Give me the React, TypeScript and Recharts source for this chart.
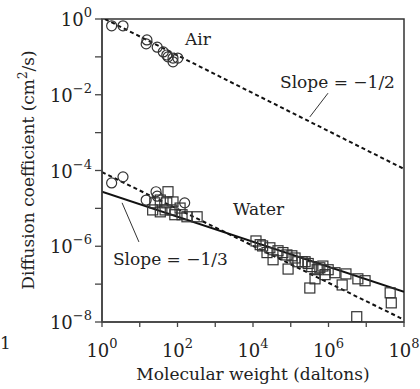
// Diffusion coefficient vs molecular weight, log-log, with power-law guide lines
// for air (slope -1/2) and water (slopes -1/2 and -1/3).

import {
  ComposedChart,
  Line,
  ReferenceArea,
  ReferenceDot,
  ReferenceLine,
  Scatter,
  XAxis,
  YAxis,
} from "recharts";

const FONT = '"DejaVu Serif", serif';
const INK = "#222";
const textStyle = { fontFamily: FONT };

// Tick values (every decade); only even powers carry a label.
const mwTicks = [1, 1e1, 1e2, 1e3, 1e4, 1e5, 1e6, 1e7, 1e8];
const dTicks = [1e-8, 1e-7, 1e-6, 1e-5, 1e-4, 1e-3, 1e-2, 1e-1, 1];

// Gases in air (circles)
const airMw = [1.8, 3.6, 15.5, 14.8, 29, 42, 52, 56, 76, 102, 76];
const airD = [0.66, 0.66, 0.28, 0.22, 0.18, 0.135, 0.112, 0.1, 0.093, 0.093, 0.074];

// Small molecules in water (circles)
const waterCircleMw = [1.8, 3.6, 14.8, 27, 29, 155];
const waterCircleD = [4.7e-5, 6.8e-5, 1.66e-5, 2.75e-5, 2.1e-5, 1.4e-5];

// Solutes in water (squares)
const waterSquareMw = [
  22, 25, 35, 35, 47, 52, 56, 71, 76, 85, 117, 132, 178, 331,
  1.2e4, 1.55e4, 1.8e4, 2.35e4, 2.8e4, 3.4e4, 4.6e4, 6.2e4, 7.9e4, 8.5e4,
  1.07e5, 1.3e5, 1.55e5, 2.0e5, 2.4e5, 2.9e5, 3.2e5, 3.6e5, 4.4e5, 5.0e5,
  5.9e5, 7.1e5, 8.1e5, 9.8e5, 1.48e6, 2.3e6, 2.9e6, 5.6e6, 6.0e6, 9.3e6,
  4.3e7, 4.6e7,
];
const waterSquareD = [
  9.1e-6, 1.4e-5, 1.66e-5, 8.1e-6, 9.1e-6, 1.4e-5, 2.75e-5, 9.1e-6, 1.48e-5, 6.8e-6,
  1.02e-5, 6.8e-6, 6.0e-6, 6.0e-6,
  1.38e-6, 1.1e-6, 1.02e-6, 6.8e-7, 9.1e-7, 4.4e-7, 7.6e-7, 6.8e-7, 5.9e-7, 2.5e-7,
  5.6e-7, 4.9e-7, 3.9e-7, 3.9e-7, 3.9e-7, 3.5e-7, 7.9e-8, 2.9e-7, 1.38e-7, 2.4e-7,
  2.7e-7, 3.0e-7, 1.78e-7, 2.4e-7, 2.0e-7, 9.5e-8, 1.86e-7, 1.38e-8, 1.38e-7, 1.23e-7,
  5.9e-8, 3.2e-8,
];

// Guide line end points
const airFitMw = [1.2, 1e8];
const airFitD = [1.0, 1.1e-4];
const waterHalfMw = [1, 1e8];
const waterHalfD = [9.1e-5, 1.15e-8];
const waterThirdMw = [1, 1e8];
const waterThirdD = [2.75e-5, 6.3e-8];

const pairs = (xs: number[], ys: number[]) => xs.map((x, i) => ({ x, y: ys[i] }));

const airData = pairs(airMw, airD);
const waterCircleData = pairs(waterCircleMw, waterCircleD);
const waterSquareData = pairs(waterSquareMw, waterSquareD);

const exponentOf = (v: number) => Math.round(Math.log10(v));
const expText = (e: number) => (e < 0 ? `\u2212${-e}` : `${e}`);

function XTick({ x, y, payload }: any) {
  const e = exponentOf(payload.value);
  if (e % 2 !== 0) return null;
  return (
    <text x={x} y={y + 28} textAnchor="middle" style={textStyle} fontSize={18} fill={INK}>
      10
      <tspan dy={-9} fontSize={13}>
        {expText(e)}
      </tspan>
    </text>
  );
}

function YTick({ x, y, payload }: any) {
  const e = exponentOf(payload.value);
  if (e % 2 !== 0) return null;
  return (
    <text x={x - 1} y={y + 7} textAnchor="end" style={textStyle} fontSize={18} fill={INK}>
      10
      <tspan dy={-9} fontSize={13}>
        {expText(e)}
      </tspan>
    </text>
  );
}

const XTitle = () => (
  <text x={253} y={380} textAnchor="middle" style={textStyle} fontSize={17} fill={INK}>
    Molecular weight (daltons)
  </text>
);

const YTitle = () => (
  <text
    transform="translate(34,170) rotate(-90)"
    textAnchor="middle"
    style={textStyle}
    fontSize={17}
    fill={INK}
  >
    Diffusion coefficient (cm
    <tspan dy={-7} fontSize={12}>
      2
    </tspan>
    <tspan dy={7}>/s)</tspan>
  </text>
);

const note = (text: string) => (props: any) => (
  <text
    x={props.viewBox.x}
    y={props.viewBox.y}
    style={textStyle}
    fontSize={17}
    fill={INK}
  >
    {text}
  </text>
);

const Circle = (p: any) => (
  <circle cx={p.cx} cy={p.cy} r={5} fill="none" stroke="#333" strokeWidth={1.2} />
);
const Square = (p: any) => (
  <rect x={p.cx - 5} y={p.cy - 5} width={10} height={10} fill="none" stroke="#333" strokeWidth={1.2} />
);

export default function App() {
  return (
    <div style={{ position: "absolute", left: 0, top: 0, background: "#fff" }}>
      <ComposedChart
        width={420}
        height={389}
        margin={{ top: 19, right: 16, bottom: 37, left: 42 }}
      >
        <XAxis
          dataKey="x"
          type="number"
          scale="log"
          domain={[1, 1e8]}
          ticks={mwTicks}
          interval={0}
          allowDataOverflow
          height={30}
          tickSize={5}
          tickLine={{ stroke: "#444", strokeWidth: 1.3 }}
          axisLine={{ stroke: "#444", strokeWidth: 1.5 }}
          tick={<XTick />}
          label={<XTitle />}
        />
        <YAxis
          dataKey="y"
          type="number"
          scale="log"
          domain={[1e-8, 1]}
          ticks={dTicks}
          interval={0}
          allowDataOverflow
          width={60}
          tickSize={7}
          tickLine={{ stroke: "#444", strokeWidth: 1.3 }}
          axisLine={{ stroke: "#444", strokeWidth: 1.5 }}
          tick={<YTick />}
          label={<YTitle />}
        />

        <ReferenceArea
          x1={1}
          x2={1e8}
          y1={1e-8}
          y2={1}
          fill="none"
          stroke="#333"
          strokeWidth={1.5}
          fillOpacity={0}
        />

        <Line
          data={pairs(airFitMw, airFitD)}
          dataKey="y"
          stroke="#111"
          strokeWidth={2}
          strokeDasharray="4 3"
          dot={false}
          isAnimationActive={false}
        />
        <Line
          data={pairs(waterHalfMw, waterHalfD)}
          dataKey="y"
          stroke="#111"
          strokeWidth={2}
          strokeDasharray="4 3"
          dot={false}
          isAnimationActive={false}
        />
        <Line
          data={pairs(waterThirdMw, waterThirdD)}
          dataKey="y"
          stroke="#111"
          strokeWidth={2}
          dot={false}
          isAnimationActive={false}
        />

        <Scatter data={airData} shape={Circle} isAnimationActive={false} />
        <Scatter data={waterCircleData} shape={Circle} isAnimationActive={false} />
        <Scatter data={waterSquareData} shape={Square} isAnimationActive={false} />

        <ReferenceLine
          segment={[
            { x: 9.7e5, y: 1.1e-2 },
            { x: 3.2e5, y: 2.6e-3 },
          ]}
          stroke="#333"
          strokeWidth={1}
        />
        <ReferenceLine
          segment={[
            { x: 3.4, y: 1.4e-5 },
            { x: 9.5, y: 1.3e-6 },
          ]}
          stroke="#333"
          strokeWidth={1}
        />

        <ReferenceDot x={158} y={0.205} r={0} stroke="none" label={{ content: note("Air") }} />
        <ReferenceDot x={5.2e4} y={1.5e-2} r={0} stroke="none" label={{ content: note("Slope = \u22121/2") }} />
        <ReferenceDot x={2950} y={6.7e-6} r={0} stroke="none" label={{ content: note("Water") }} />
        <ReferenceDot x={1.95} y={3.2e-7} r={0} stroke="none" label={{ content: note("Slope = \u22121/3") }} />
      </ComposedChart>
      <svg
        width={20}
        height={30}
        style={{ position: "absolute", left: 0, top: 330 }}
      >
        <text x={0} y={19} style={textStyle} fontSize={17} fill={INK}>
          1
        </text>
      </svg>
    </div>
  );
}
